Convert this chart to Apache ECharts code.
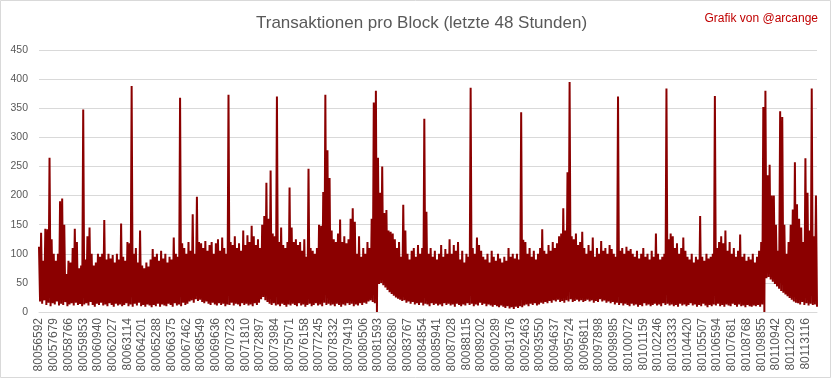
<!DOCTYPE html>
<html>
<head>
<meta charset="utf-8">
<script src="https://cdn.jsdelivr.net/npm/echarts@6/dist/echarts.min.js"></script>
<style>html,body{margin:0;padding:0;background:#fff}#c{width:833px;height:379px}</style>
</head>
<body>
<div id="c"></div>
<script>
// Tick labels (block numbers shown on the x axis)
const tickLabels = ["80056592","80057679","80058766","80059853","80060940","80062027","80063114","80064201","80065288","80066375","80067462","80068549","80069636","80070723","80071810","80072897","80073984","80075071","80076158","80077245","80078332","80079419","80080506","80081593","80082680","80083767","80084854","80085941","80087028","80088115","80089202","80090289","80091376","80092463","80093550","80094637","80095724","80096811","80097898","80098985","80100072","80101159","80102246","80103333","80104420","80105507","80106594","80107681","80108768","80109855","80110942","80112029","80113116"];
const blocksPerTick = 1087;

// Per-column upper envelope of transactions per block
const highValues = [
112,136,88,143,142,265,125,100,88,100,
190,195,150,65,88,85,110,143,120,75,
80,348,90,130,145,100,80,85,100,95,
100,158,90,100,92,98,85,100,90,152,
95,88,120,118,388,100,110,85,140,80,
75,85,78,90,108,95,100,88,105,92,
100,85,95,90,128,100,95,368,118,110,
100,120,105,168,100,198,120,118,110,122,
105,115,120,100,118,125,105,128,110,100,
373,120,115,130,110,118,105,140,115,132,
120,148,130,115,125,110,150,165,222,160,
243,135,130,370,120,145,115,110,120,214,
145,120,125,115,120,105,125,95,246,110,
105,100,110,150,148,206,373,278,230,140,
125,120,135,159,120,130,118,125,160,178,
155,100,130,95,110,100,120,110,160,360,
380,265,205,250,170,175,140,138,135,125,
110,120,95,184,140,100,90,105,110,95,
115,100,110,332,172,100,110,95,105,90,
100,115,95,108,100,125,100,115,105,120,
90,105,85,100,95,385,110,100,128,115,
105,95,90,100,85,105,95,88,100,92,
85,95,88,110,95,100,92,100,90,343,
124,120,100,110,95,105,90,100,110,142,
105,100,115,105,120,110,118,130,135,178,
140,240,395,130,125,135,115,120,138,110,
100,115,105,128,95,110,100,122,105,110,
100,115,108,100,95,370,105,110,100,112,
105,108,100,95,105,92,100,110,95,100,
90,105,95,135,100,90,95,100,384,125,
135,130,110,118,100,110,128,105,95,90,
100,85,95,90,165,95,88,100,92,95,
100,371,110,120,130,118,140,105,120,100,
110,95,105,133,95,100,88,95,90,100,
85,95,105,120,352,380,235,253,200,200,
150,105,345,335,150,100,120,150,176,257,
185,160,145,120,264,205,140,384,130,200
];

// Per-column lower envelope
const lowValues = [
18,14,20,12,16,10,15,13,18,11,
14,12,17,10,13,15,11,16,12,14,
10,13,15,11,17,12,9,14,12,16,
11,13,10,15,12,9,14,11,13,10,
12,15,10,13,9,14,11,16,10,12,
9,13,11,8,12,10,14,9,13,11,
10,14,12,9,15,11,13,10,16,12,
14,18,20,16,22,19,21,17,15,18,
14,12,16,13,11,15,12,14,10,13,
12,16,11,14,13,10,15,12,14,11,
13,10,15,12,16,22,26,20,17,14,
12,15,11,13,10,14,12,9,13,11,
14,12,10,15,11,13,9,12,14,10,
12,15,11,13,10,16,12,14,11,13,
10,14,12,9,13,11,15,12,14,10,
13,11,15,12,16,14,18,20,17,15,
0,48,50,46,42,38,34,31,28,25,
23,21,19,20,16,18,14,17,13,15,
12,16,11,14,13,10,15,12,14,11,
13,10,15,12,14,11,13,9,14,12,
10,13,11,15,12,14,10,13,11,16,
12,14,10,13,11,9,12,10,8,11,
9,7,10,6,8,5,9,7,10,8,
11,13,10,14,12,15,11,13,16,14,
17,15,19,16,20,18,21,17,19,16,
20,18,22,17,19,21,18,20,17,19,
21,18,20,16,19,17,22,18,20,16,
18,15,17,13,16,12,15,11,14,12,
10,14,11,13,9,12,10,15,11,13,
10,12,14,11,13,10,15,12,14,11,
13,10,12,9,14,11,13,10,12,15,
11,13,9,12,10,14,11,8,12,10,
13,11,14,10,12,9,13,11,10,14,
12,9,13,10,11,8,12,10,9,11,
10,12,9,13,0,58,60,56,52,48,
44,40,36,33,30,27,24,21,18,16,
15,13,17,12,15,11,14,12,13,9
];

const yTicks = {min: 0, max: 450, interval: 50};

// Build interleaved line data (high, low per column) and category names
const pointsPerTick = 14;
const series = [];
for (let i = 0; i < highValues.length; i++) { series.push(highValues[i]); series.push(lowValues[i]); }
const cats = series.map((_, j) => {
  const k = Math.floor(j / pointsPerTick), m = j % pointsPerTick;
  const base = Number(tickLabels[Math.min(k, tickLabels.length - 1)]);
  const extra = (k >= tickLabels.length ? (k - tickLabels.length + 1) * pointsPerTick + m : m);
  return m === 0 && k < tickLabels.length ? tickLabels[k] : String(base + Math.round(extra * blocksPerTick / pointsPerTick));
});

const chart = echarts.init(document.getElementById('c'), null, {renderer: 'canvas'});
chart.setOption({
  animation: false,
  backgroundColor: '#ffffff',
  title: [
    {text: 'Transaktionen pro Block (letzte 48 Stunden)', left: 251, top: 10,
     textStyle: {fontFamily: 'Liberation Sans', fontSize: 17, fontWeight: 'normal', color: '#595959'}},
    {text: 'Grafik von @arcange', right: 10, top: 8,
     textStyle: {fontFamily: 'Liberation Sans', fontSize: 12, fontWeight: 'normal', color: '#C00000'}}
  ],
  graphic: [{type: 'rect', shape: {x: 0.5, y: 0.5, width: 830, height: 377}, style: {fill: 'none', stroke: '#D9D9D9', lineWidth: 1}, silent: true}],
  grid: {left: 39, right: 16, top: 50, bottom: 67},
  xAxis: {
    type: 'category', data: cats, boundaryGap: false,
    axisLine: {lineStyle: {color: '#D9D9D9'}},
    axisTick: {show: false},
    axisLabel: {interval: pointsPerTick - 1, rotate: 90, margin: 6, color: '#595959', fontFamily: 'Liberation Sans', fontSize: 12}
  },
  yAxis: {
    type: 'value', min: yTicks.min, max: yTicks.max, interval: yTicks.interval,
    axisLine: {show: false}, axisTick: {show: false},
    splitLine: {lineStyle: {color: '#D9D9D9'}},
    axisLabel: {margin: 11, color: '#595959', fontFamily: 'Liberation Sans', fontSize: 10.5}
  },
  series: [{
    type: 'line', data: series, showSymbol: false, symbol: 'none', sampling: null,
    lineStyle: {color: '#8B0000', width: 2, join: 'bevel'}, itemStyle: {color: '#8B0000'}
  }]
});
</script>
</body>
</html>
